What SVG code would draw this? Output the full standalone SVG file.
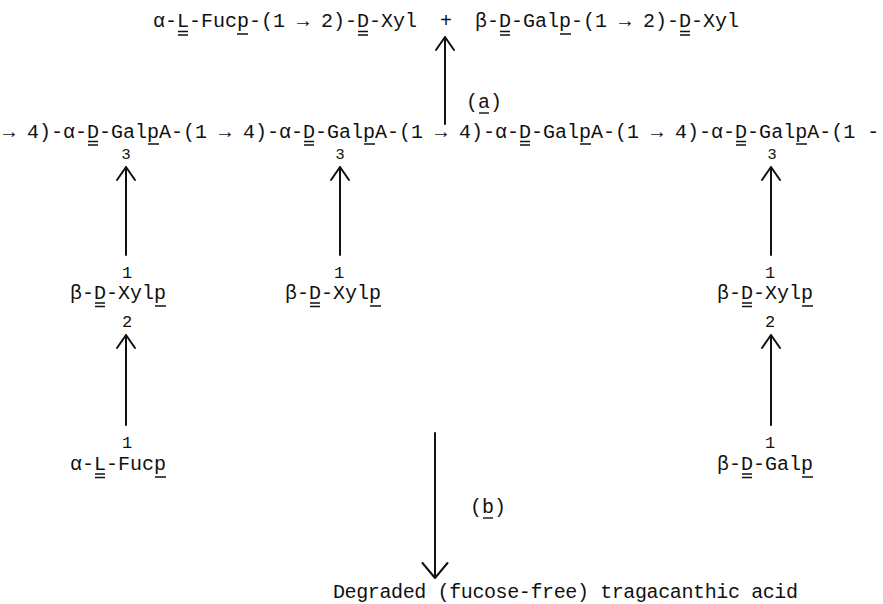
<svg xmlns="http://www.w3.org/2000/svg" width="883" height="604" viewBox="0 0 883 604">
<style>
text{font-family:"Liberation Mono","Courier New",monospace;font-size:20px;fill:#111}
.n{font-family:"Liberation Sans",Arial,sans-serif;font-size:15.5px;text-anchor:middle}
.d{font-size:17px;text-anchor:middle}
.c{text-anchor:middle}
.u{stroke:#111;stroke-width:1.4}
.ar{stroke:#111;stroke-width:2;fill:none;stroke-linecap:round;stroke-linejoin:round}
</style>
<rect width="883" height="604" fill="#fff"/>
<g id="products">
<text x="153" y="27">α-L-Fucp-(1 → 2)-D-Xyl</text>
<text x="446" y="27" class="c">+</text>
<text x="475" y="27">β-D-Galp-(1 → 2)-D-Xyl</text>
<path class="u" d="M178 31.5h10M178 35h10M237 34h11M358 31.5h10M358 35h10M500 31.5h10M500 35h10M560 34h11M680 31.5h10M680 35h10"/>
</g>
<g id="chain">
<text x="3" y="138">→ 4)-α-D-GalpA-(1 → 4)-α-D-GalpA-(1 → 4)-α-D-GalpA-(1 → 4)-α-D-GalpA-(1 -</text>
<path class="u" d="M88 141.5h10M88 145h10M148 144h11M304 141.5h10M304 145h10M364 144h11M520 141.5h10M520 145h10M580 144h11M736 141.5h10M736 145h10M796 144h11"/>
<text x="126" y="159" class="n">3</text>
<text x="340" y="159" class="n">3</text>
<text x="772" y="159" class="n">3</text>
</g>
<g id="left-xyl">
<text x="127" y="278" class="d">1</text>
<text x="70" y="299">β-D-Xylp</text>
<path class="u" d="M95 303h10M95 306.5h10M155 306h11"/>
<text x="127" y="327" class="d">2</text>
</g>
<g id="left-fuc">
<text x="127" y="448" class="d">1</text>
<text x="70" y="470">α-L-Fucp</text>
<path class="u" d="M95 474h10M95 477.5h10M155 477h11"/>
</g>
<g id="mid-xyl">
<text x="339" y="278" class="d">1</text>
<text x="285" y="299">β-D-Xylp</text>
<path class="u" d="M310 303h10M310 306.5h10M370 306h11"/>
</g>
<g id="right-xyl">
<text x="770" y="278" class="d">1</text>
<text x="717" y="299">β-D-Xylp</text>
<path class="u" d="M742 303h10M742 306.5h10M802 306h11"/>
<text x="770" y="327" class="d">2</text>
</g>
<g id="right-gal">
<text x="770" y="448" class="d">1</text>
<text x="717" y="470">β-D-Galp</text>
<path class="u" d="M742 474h10M742 477.5h10M802 477h11"/>
</g>
<g id="label-a">
<text x="466" y="108">(a)</text>
<path class="u" d="M479 113h10"/>
</g>
<g id="label-b">
<text x="470" y="513">(b)</text>
<path class="u" d="M483 518h10"/>
</g>
<g id="degraded">
<text x="333" y="598" textLength="465" lengthAdjust="spacing">Degraded (fucose-free) tragacanthic acid</text>
</g>
<g id="connectors">
<path class="ar" d="M445 124V37M436 50L445 37L454 50"/>
<path class="ar" d="M126 255V167M117 180L126 167L135 180"/>
<path class="ar" d="M340 255V167M331 180L340 167L349 180"/>
<path class="ar" d="M771 255V167M762 180L771 167L780 180"/>
<path class="ar" d="M126 425V335M117 348L126 335L135 348"/>
<path class="ar" d="M771 425V335M762 348L771 335L780 348"/>
<path class="ar" d="M435 433V578M422.5 563L435 578L447.5 563"/>
</g>
</svg>
